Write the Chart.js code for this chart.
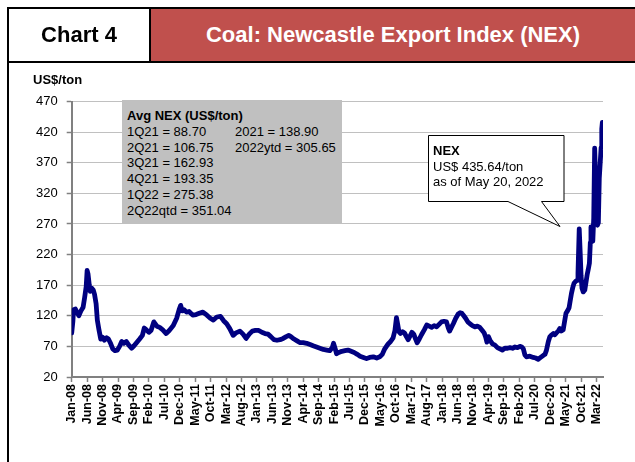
<!DOCTYPE html>
<html>
<head>
<meta charset="utf-8">
<script src="https://cdn.jsdelivr.net/npm/chart.js@4.4.1/dist/chart.umd.min.js"></script>
<style>
  body { margin: 0; background: #fff; overflow: hidden; font-family: 'Liberation Sans', Arial, sans-serif; }
  #wrap { position: absolute; left: 0; top: 0; width: 635px; height: 462px; }
  .line { position: absolute; background: #000; z-index: 3; }
  #hdrLeft { position: absolute; left: 9px; top: 9px; width: 140px; height: 52px; line-height: 52px;
    text-align: center; font-weight: bold; font-size: 22px; color: #000; z-index: 3; }
  #hdrRight { position: absolute; left: 151px; top: 9px; width: 484px; height: 52px; line-height: 52px;
    text-align: center; font-weight: bold; font-size: 22px; color: #fff; background: #C0504D; z-index: 2; }
  #unit { position: absolute; left: 33px; top: 72px; font-weight: bold; font-size: 13px; z-index: 3; }
  #avgBox { position: absolute; left: 122px; top: 100px; width: 220px; height: 123px; background: #C0C0C0;
    font-size: 13px; line-height: 15.8px; z-index: 3; }
  #avgBox .col { position: absolute; top: 8px; }
  #callout { position: absolute; left: 0; top: 0; z-index: 3; }
  #calloutText { position: absolute; left: 433px; top: 143px; font-size: 13px; line-height: 15.5px; z-index: 4; }
</style>
</head>
<body>
<div id="wrap"><canvas id="nexChart"></canvas></div>

<div class="line" style="left:7px;top:7px;width:628px;height:2px"></div>
<div class="line" style="left:7px;top:7px;width:2px;height:455px"></div>
<div class="line" style="left:7px;top:61px;width:628px;height:2px"></div>
<div class="line" style="left:149px;top:7px;width:2px;height:56px"></div>
<div id="hdrLeft">Chart 4</div>
<div id="hdrRight">Coal: Newcastle Export Index (NEX)</div>
<div id="unit">US$/ton</div>

<div id="avgBox">
  <div class="col" style="left:5px">
    <b>Avg NEX (US$/ton)</b><br>
    1Q21 = 88.70<br>2Q21 = 106.75<br>3Q21 = 162.93<br>4Q21 = 193.35<br>1Q22 = 275.38<br>2Q22qtd = 351.04
  </div>
  <div class="col" style="left:113px">
    &nbsp;<br>2021 = 138.90<br>2022ytd = 305.65
  </div>
</div>

<svg id="callout" width="635" height="462">
  <polygon points="428.5,135.5 564,135.5 564,201.5 541.5,201.5 560,226.5 508,201.5 428.5,201.5"
    fill="#fff" stroke="#000" stroke-width="1"/>
</svg>
<div id="calloutText"><b>NEX</b><br>US$ 435.64/ton<br>as of May 20, 2022</div>

<script>
// x position = months since Jan-08 (fractional = within the month)
const monthIdx = [
  0, 0.4, 0.6, 1.2, 1.8, 2.3, 3.0, 3.7, 4.2, 4.7, 5.0, 5.3, 5.7, 6.0, 6.5, 7.0, 7.4, 7.9, 8.3, 8.8,
  9.4, 10.0, 10.6, 11.3, 11.9, 12.5, 13.3, 14.0, 14.8, 15.5, 16.2, 16.9, 17.7, 18.5, 19.4, 20.2, 21.0, 22.0, 22.9, 23.5,
  24.2, 25.0, 25.7, 26.6, 27.6, 28.5, 29.5, 30.6, 31.6, 32.9, 34.0, 34.8, 35.3, 35.8, 36.4, 37.2, 38.0, 39.2, 40.3, 41.3,
  42.5, 43.8, 44.9, 45.9, 47.0, 48.2, 49.2, 50.2, 51.2, 52.3, 53.2, 54.5, 55.5, 56.5, 57.5, 58.5, 59.5, 60.6, 61.6, 62.6,
  63.6, 64.5, 65.5, 66.5, 67.5, 68.5, 69.5, 70.3, 71.0, 72.0, 73.0, 74.0, 75.0, 76.1, 77.2, 78.2, 79.3, 80.4, 81.5, 82.6,
  83.6, 84.4, 84.8, 85.3, 85.8, 86.5, 87.5, 88.5, 89.5, 90.5, 91.5, 92.5, 93.4, 94.5, 95.5, 96.5, 97.7, 98.8, 99.8, 100.6,
  101.3, 102.5, 103.3, 104.1, 104.7, 105.2, 105.6, 106.0, 106.5, 107.2, 107.8, 108.4, 109.0, 109.6, 110.2, 110.8, 111.4, 111.9, 112.6, 113.3,
  114.2, 115.0, 115.8, 116.6, 117.4, 118.2, 119.0, 119.8, 120.6, 121.4, 122.0, 122.4, 123.0, 123.6, 124.4, 125.2, 125.8, 126.4, 127.0, 127.6,
  128.3, 129.0, 129.8, 130.6, 131.4, 132.2, 133.0, 133.6, 134.1, 134.5, 135.0, 135.5, 136.3, 137.1, 137.9, 138.7, 139.5, 140.3, 141.2, 142.0,
  142.8, 143.6, 144.4, 145.2, 145.8, 146.3, 146.8, 147.3, 148.4, 149.5, 150.3, 151.1, 151.9, 152.7, 153.3, 153.8, 154.4, 154.9, 155.5, 156.0,
  156.5, 157.0, 157.6, 158.1, 158.6, 159.2, 159.7, 160.1, 160.6, 161.1, 161.5, 161.9, 162.3, 162.7, 163.2, 163.7, 164.0, 164.4, 164.7, 165.0,
  165.3, 165.7, 166.2, 166.6, 167.0, 167.3, 167.7, 168.0, 168.2, 168.5, 168.8, 169.1, 169.4, 169.6, 169.8, 170.0, 170.3, 170.6, 170.9, 171.2,
  171.5, 171.7, 171.9
];
const nexUsd = [
  92, 112, 130, 131, 125, 120, 128, 134, 150, 168, 194, 188, 170, 160, 165, 162, 155, 140, 113, 98,
  82, 85, 80, 84, 82, 76, 66, 63, 64, 70, 78, 75, 78, 72, 67, 71, 76, 82, 88, 100,
  97, 93, 96, 110, 103, 101, 97, 91, 96, 104, 116, 130, 137, 128, 130, 126, 127, 121, 122, 124,
  126, 121, 116, 113, 118, 119, 112, 107, 99, 88, 92, 95, 90, 83, 90, 95, 96, 96, 93, 91,
  90, 86, 81, 80, 81, 83, 86, 88, 86, 82, 79, 76, 76, 75, 73, 71, 69, 67, 65, 64,
  63, 68, 75, 67, 58, 60, 62, 63, 64, 62, 60, 57, 54, 52, 50, 52, 53, 51, 53, 57,
  65, 74, 78, 84, 96, 117, 106, 94, 91, 94, 92, 86, 81, 87, 93, 90, 82, 76, 82, 89,
  97, 105, 103, 101, 104, 102, 106, 110, 111, 110, 100, 95, 101, 107, 116, 123, 125, 124, 120, 116,
  110, 107, 104, 102, 103, 101, 96, 92, 85, 77, 86, 80, 74, 72, 68, 66, 64, 67, 67, 68,
  67, 69, 68, 70, 69, 66, 56, 53, 54, 52, 51, 49, 52, 55, 57, 64, 78, 86, 89, 91,
  89, 92, 95, 99, 95, 97, 112, 124, 128, 133, 145, 157, 166, 173, 176, 178, 190, 262, 225, 185,
  165, 159, 162, 175, 188, 195, 206, 240, 265, 250, 242, 280, 394, 360, 300, 270, 268, 272, 345, 370,
  395, 425, 436
];
const tickLabels = [
  'Jan-08', 'Jun-08', 'Nov-08', 'Apr-09', 'Sep-09', 'Feb-10', 'Jul-10', 'Dec-10', 'May-11', 'Oct-11',
  'Mar-12', 'Aug-12', 'Jan-13', 'Jun-13', 'Nov-13', 'Apr-14', 'Sep-14', 'Feb-15', 'Jul-15', 'Dec-15',
  'May-16', 'Oct-16', 'Mar-17', 'Aug-17', 'Jan-18', 'Jun-18', 'Nov-18', 'Apr-19', 'Sep-19', 'Feb-20',
  'Jul-20', 'Dec-20', 'May-21', 'Oct-21', 'Mar-22'
];
const tickStep = 5;

Chart.defaults.font.family = "'Liberation Sans', Arial, sans-serif";
Chart.defaults.color = '#000';

const points = monthIdx.map((m, i) => ({ x: m, y: nexUsd[i] }));

const nexChart = new Chart(document.getElementById('nexChart'), {
  type: 'line',
  data: {
    datasets: [{
      data: points,
      borderColor: '#000080',
      borderWidth: 4.8,
      borderJoinStyle: 'round',
      borderCapStyle: 'round',
      pointRadius: 0,
      tension: 0,
    }],
  },
  options: {
    responsive: true,
    maintainAspectRatio: false,
    animation: false,
    layout: { padding: { top: 101.5, right: 32, left: 0, bottom: 0 } },
    plugins: { legend: { display: false }, tooltip: { enabled: false } },
    scales: {
      x: {
        type: 'linear',
        min: 0,
        max: 172.1,
        afterBuildTicks(axis) {
          axis.ticks = tickLabels.map((_, i) => ({ value: i * tickStep }));
        },
        afterFit(axis) { axis.height = 85; },
        border: { display: true, color: '#808080', width: 2 },
        grid: {
          drawOnChartArea: false,
          drawTicks: true,
          tickLength: 5,
          tickColor: '#808080',
          tickWidth: 1.5,
        },
        ticks: {
          autoSkip: false,
          maxRotation: 90,
          minRotation: 90,
          padding: 2,
          font: { size: 12.5, weight: 'bold' },
          callback: (v) => tickLabels[Math.round(v / tickStep)],
        },
      },
      y: {
        min: 20,
        max: 470,
        afterFit(axis) { axis.width = 71.7; },
        border: { display: true, color: '#808080', width: 2 },
        grid: {
          color: '#c0c0c0',
          borderDash: [2, 2],
          lineWidth: 1,
          tickLength: 5,
          tickColor: '#808080',
          tickWidth: 1.5,
          tickBorderDash: [],
        },
        ticks: {
          stepSize: 50,
          padding: 9,
          font: { size: 13 },
        },
      },
    },
  },
});
</script>
</body>
</html>
